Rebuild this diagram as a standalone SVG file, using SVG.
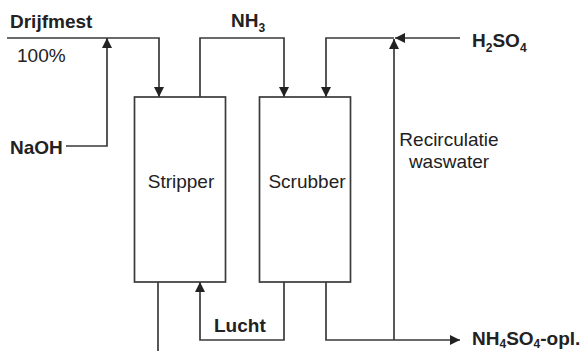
<svg xmlns="http://www.w3.org/2000/svg" width="584" height="351" viewBox="0 0 584 351">
<style>
.ln{fill:none;stroke:#3a3a3a;stroke-width:1.7}
.box{fill:#fff;stroke:#3a3a3a;stroke-width:1.7}
.t{font-family:"Liberation Sans",Arial,sans-serif;font-size:19px;fill:#222}
.b{font-weight:bold}
.s{font-size:12px}
</style>
<defs>
<marker id="ah" viewBox="0 0 10 10" refX="10" refY="5" markerWidth="10" markerHeight="10" markerUnits="userSpaceOnUse" orient="auto">
<path d="M0,0 L10,5 L0,10 z" fill="#222"/>
</marker>
</defs>
<rect width="584" height="351" fill="#fff"/>
<g id="connectors">
<path class="ln" d="M7,38 H159 V97" marker-end="url(#ah)"/>
<path class="ln" d="M66,146 H107 V38" marker-end="url(#ah)"/>
<path class="ln" d="M200,97 V38 H284 V97" marker-end="url(#ah)"/>
<path class="ln" d="M394,38 H326 V97" marker-end="url(#ah)"/>
<path class="ln" d="M460,38 H395" marker-end="url(#ah)"/>
<path class="ln" d="M394,340 V39" marker-end="url(#ah)"/>
<path class="ln" d="M158,282 V351"/>
<path class="ln" d="M284,282 V340 H200 V282" marker-end="url(#ah)"/>
<path class="ln" d="M326,282 V340 H460" marker-end="url(#ah)"/>
</g>
<g id="stripper">
<rect class="box" x="134.5" y="97" width="91" height="185"/>
<text class="t" x="181" y="188" text-anchor="middle">Stripper</text>
</g>
<g id="scrubber">
<rect class="box" x="259.5" y="97" width="91" height="185"/>
<text class="t" x="307" y="188" text-anchor="middle">Scrubber</text>
</g>
<g id="labels">
<text class="t b" x="10" y="28">Drijfmest</text>
<text class="t" x="17" y="62">100%</text>
<text class="t b" x="10" y="154">NaOH</text>
<text class="t b" x="231" y="27">NH<tspan class="s" dy="5">3</tspan></text>
<text class="t b" x="472" y="47">H<tspan class="s" dy="5">2</tspan><tspan dy="-5">SO</tspan><tspan class="s" dy="5">4</tspan></text>
<text class="t" x="449" y="146" text-anchor="middle">Recirculatie</text>
<text class="t" x="449" y="168" text-anchor="middle">waswater</text>
<text class="t b" x="214" y="332">Lucht</text>
<text class="t b" x="472" y="345">NH<tspan class="s" dy="3">4</tspan><tspan dy="-3">SO</tspan><tspan class="s" dy="3">4</tspan><tspan dy="-3">-opl.</tspan></text>
</g>
</svg>
